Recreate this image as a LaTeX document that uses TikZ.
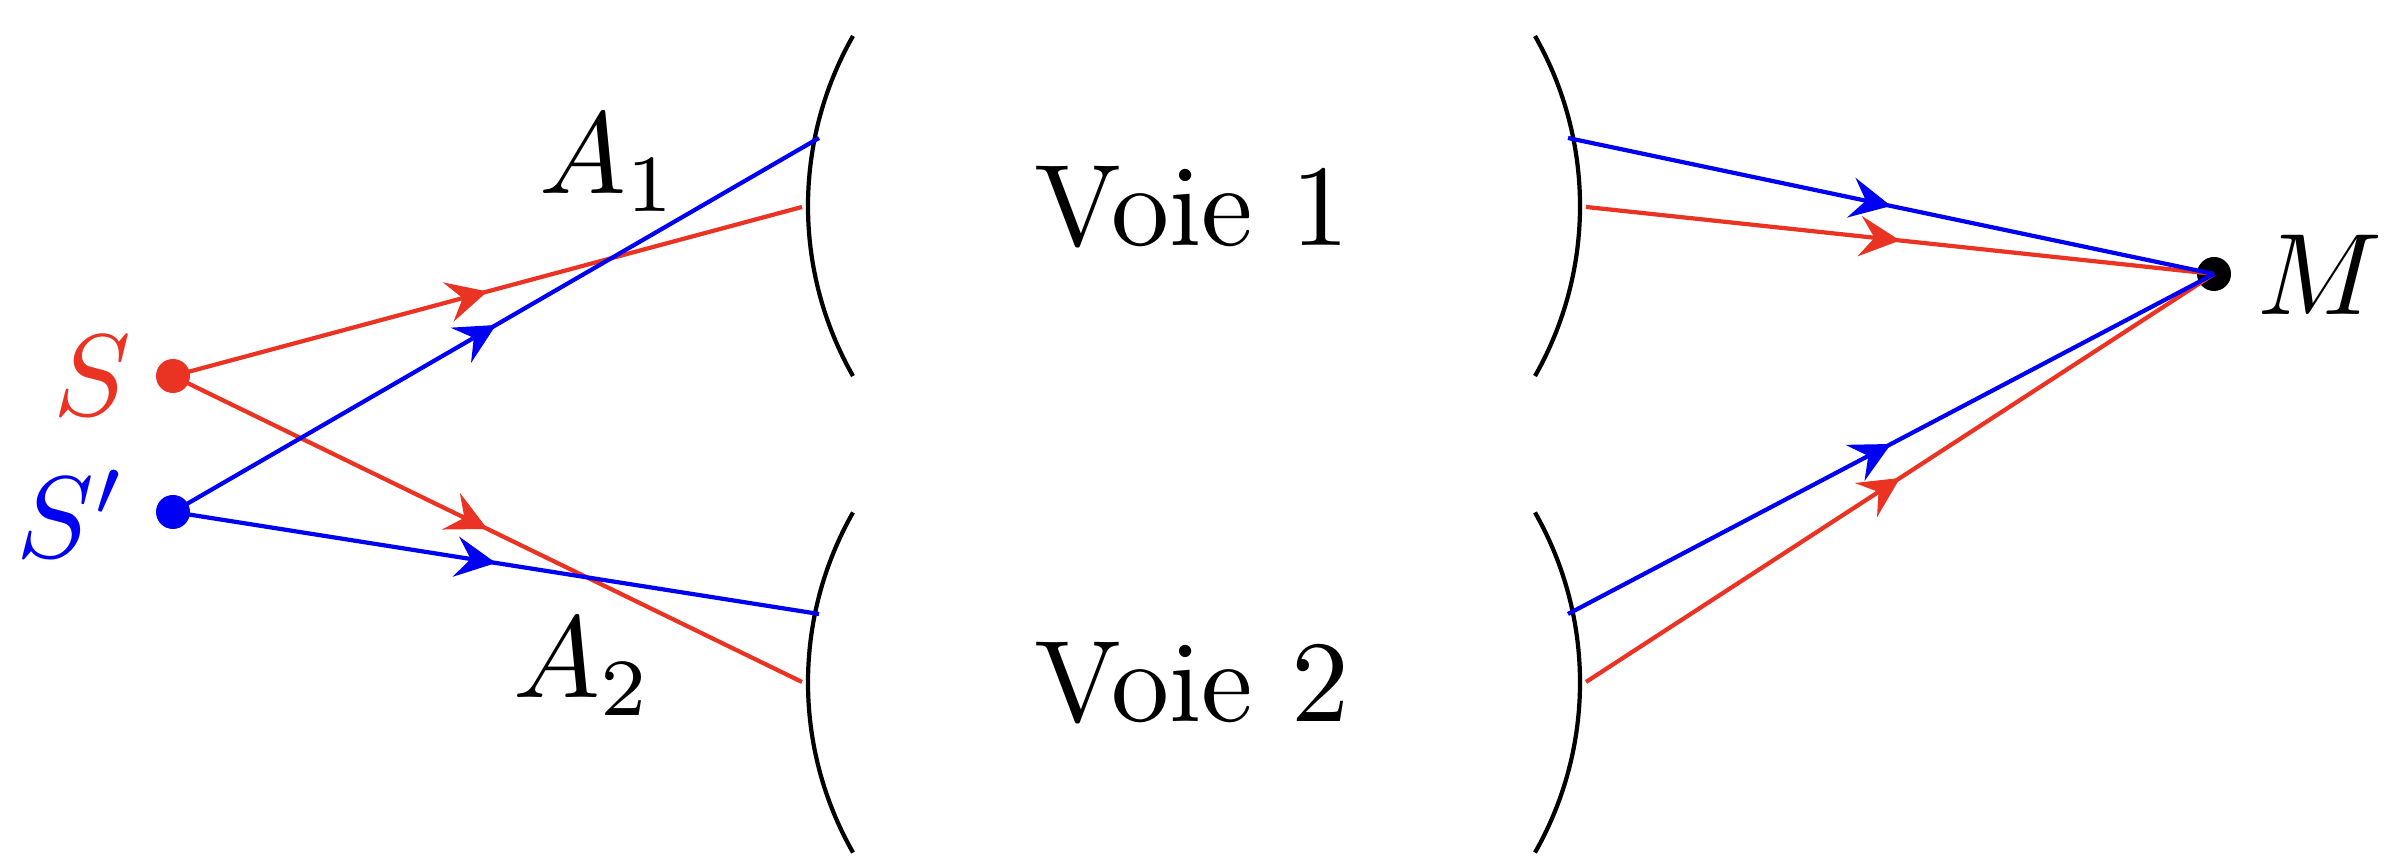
\documentclass[tikz,border=0pt]{standalone}
\usepackage{amsmath}
\usepackage{tikz}
\usetikzlibrary{arrows.meta,decorations.markings}
\definecolor{rayred}{RGB}{234,51,35}
\definecolor{rayblue}{RGB}{0,0,245}

\begin{document}
\begin{tikzpicture}[scale = 1,
  txt/.style = {scale=3.3},
  spot/.style = {circle, fill, inner sep=0pt, minimum size=0.34cm},
  ray/.style = {line width=1.2pt, postaction={decorate},
    decoration={markings, mark=at position 0.5 with {\arrow{Stealth[length=11.5pt,width=11.5pt,inset=4.2pt]}}}},
  lens/.style = {line width=1.2pt}]
\useasboundingbox (0,0) rectangle (23.98,8.64);
% lentilles
\draw [lens] (8.53,8.28) arc [start angle=150.34, end angle=209.66, radius=3.436];
\draw [lens] (8.53,3.515) arc [start angle=150.34, end angle=209.66, radius=3.436];
\draw [lens] (15.35,8.28) arc [start angle=29.66, end angle=-29.66, radius=3.436];
\draw [lens] (15.35,3.515) arc [start angle=29.66, end angle=-29.66, radius=3.436];
\node [txt] (V1) at (11.92,6.57) {Voie 1};
\node [txt] (V2) at (11.92,1.81) {Voie 2};
% sources et point M
\node [spot, rayred] (S) at (1.73,4.88) {};
\node [spot, rayblue] (Sp) at (1.73,3.52) {};
\node [spot, black] (M) at (22.14,5.90) {};
\node [txt, rayred] (lS) at (0.92,4.88) {$S$};
\node [txt, rayblue] (lSp) at (0.72,3.50) {$S'$};
\node [txt] (lM) at (23.20,5.89) {$M$};
\node [txt] (A1) at (6.09,7.01) {$A_1$};
\node [txt] (A2) at (5.83,1.97) {$A_2$};
% points sur les lentilles
\coordinate (l1b) at (8.19,7.26);
\coordinate (l1r) at (8.02,6.57);
\coordinate (l2b) at (8.19,2.50);
\coordinate (l2r) at (8.02,1.82);
\coordinate (r1b) at (15.68,7.26);
\coordinate (r1r) at (15.86,6.57);
\coordinate (r2b) at (15.68,2.50);
\coordinate (r2r) at (15.86,1.82);
% rayons
\draw [ray, rayred] (S.center) -- (l1r);
\draw [ray, rayred] (S.center) -- (l2r);
\draw [ray, rayblue] (Sp.center) -- (l1b);
\draw [ray, rayblue] (Sp.center) -- (l2b);
\draw [ray, rayred] (r1r) -- (M.center);
\draw [ray, rayred] (r2r) -- (M.center);
\draw [ray, rayblue] (r1b) -- (M.center);
\draw [ray, rayblue] (r2b) -- (M.center);
\end{tikzpicture}
\end{document}
